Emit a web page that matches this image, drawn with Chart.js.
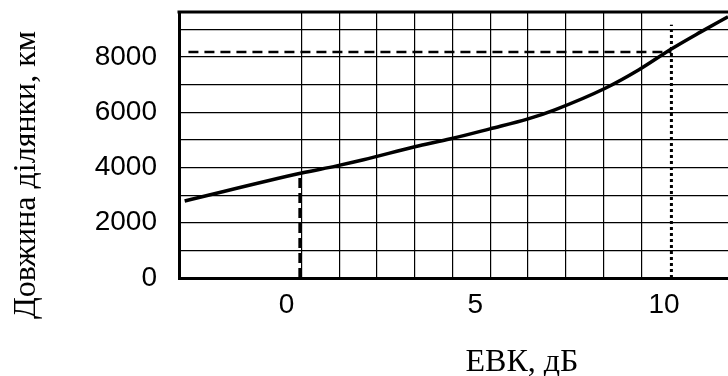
<!DOCTYPE html>
<html>
<head>
<meta charset="utf-8">
<script src="https://cdn.jsdelivr.net/npm/chart.js@4/dist/chart.umd.min.js"></script>
<style>
html,body{margin:0;padding:0;background:#fff;}
#c{display:block;}
</style>
</head>
<body>
<canvas id="c" width="728" height="376"></canvas>
<script>
// Curve: EBK (dB) vs section length (km)
const evk = [-3.1, 0, 0.93, 1.64, 3.0, 3.95, 4.99, 6.0, 6.71, 8.06, 8.94, 9.81, 10.58, 11.3];
const lengthKm = [2790, 3800, 4060, 4280, 4750, 5040, 5400, 5760, 6090, 6880, 7540, 8300, 8910, 9460];

// Reference lines
const hDashX = [-3.0, 9.8];
const hDashY = [8180, 8180];
const vDashX = [-0.05, -0.05];
const vDashY = [0, 3800];
const vDotX = [9.8, 9.8];
const vDotY = [0, 9170];

// Grid positions and tick labels
const xGridValues = [-3, -2, -1, 0, 1, 2, 3, 4, 5, 6, 7, 8, 9, 10, 11];
const xTickLabels = [0, 5, 10];
const yGridValues = [0, 1000, 2000, 3000, 4000, 5000, 6000, 7000, 8000, 9000];
const yTickLabels = [0, 2000, 4000, 6000, 8000];

const yTitle = 'Довжина ділянки, км';
const xTitle = 'ЕВК, дБ';

const zip = (xs, ys) => xs.map((x, i) => ({x: x, y: ys[i]}));

const titlePlugin = {
  id: 'customTitles',
  afterDraw(chart) {
    const ctx = chart.ctx;
    const a = chart.chartArea;
    ctx.save();
    ctx.strokeStyle = '#000';
    ctx.lineWidth = 3;
    ctx.beginPath();
    ctx.moveTo(a.left - 1.5, a.top);
    ctx.lineTo(chart.width, a.top);
    ctx.stroke();
    ctx.fillStyle = '#000';
    ctx.font = '32px "Liberation Serif"';
    ctx.translate(35, 175);
    ctx.rotate(-Math.PI / 2);
    ctx.textAlign = 'center';
    ctx.textBaseline = 'alphabetic';
    ctx.fillText(yTitle, 0, 0);
    ctx.restore();
    ctx.save();
    ctx.fillStyle = '#000';
    ctx.font = '32px "Liberation Serif"';
    ctx.textAlign = 'center';
    ctx.textBaseline = 'alphabetic';
    ctx.fillText(xTitle, 522, 371);
    ctx.restore();
  }
};

new Chart(document.getElementById('c'), {
  type: 'scatter',
  data: {
    datasets: [
      {data: zip(evk, lengthKm), showLine: true, borderColor: '#000', borderWidth: 3.5,
       pointRadius: 0, cubicInterpolationMode: 'monotone'},
      {data: zip(hDashX, hDashY), showLine: true, borderColor: '#000', borderWidth: 2.5,
       borderDash: [10, 6], pointRadius: 0},
      {data: zip(vDashX, vDashY), showLine: true, borderColor: '#000', borderWidth: 2.8,
       borderDash: [10, 5], pointRadius: 0},
      {data: zip(vDotX, vDotY), showLine: true, borderColor: '#000', borderWidth: 3,
       borderDash: [3, 3], pointRadius: 0}
    ]
  },
  options: {
    responsive: false,
    animation: false,
    layout: {padding: {top: 12, left: 0, right: 0, bottom: 0}},
    plugins: {legend: {display: false}, tooltip: {enabled: false}, title: {display: false}},
    scales: {
      x: {
        type: 'linear',
        min: -3.25,
        max: 11.3,
        afterBuildTicks(s) { s.ticks = xGridValues.map(v => ({value: v})); },
        afterFit(s) { s.height = 98; s.paddingLeft = 0; s.paddingRight = 0; },
        border: {display: true, color: '#000', width: 3},
        grid: {
          drawTicks: false,
          lineWidth: 1.2,
          color: (c) => (c.tick && c.tick.value >= 0 && c.tick.value <= 9) ? '#000' : 'rgba(0,0,0,0)'
        },
        ticks: {
          autoSkip: false,
          maxRotation: 0,
          labelOffset: -15,
          padding: 10,
          color: '#000',
          font: {family: '"Liberation Sans"', size: 28},
          callback: (v) => xTickLabels.includes(v) ? String(v) : ''
        }
      },
      y: {
        type: 'linear',
        min: 0,
        max: 9630,
        afterBuildTicks(s) { s.ticks = yGridValues.map(v => ({value: v})); },
        afterFit(s) { s.width = 179; s.paddingTop = 0; s.paddingBottom = 0; },
        border: {display: true, color: '#000', width: 3},
        grid: {drawTicks: false, color: '#000', lineWidth: 1.2},
        ticks: {
          autoSkip: false,
          padding: 22,
          color: '#000',
          font: {family: '"Liberation Sans"', size: 28},
          callback: (v) => yTickLabels.includes(v) ? String(v) : ''
        }
      }
    }
  },
  plugins: [titlePlugin]
});
</script>
</body>
</html>
